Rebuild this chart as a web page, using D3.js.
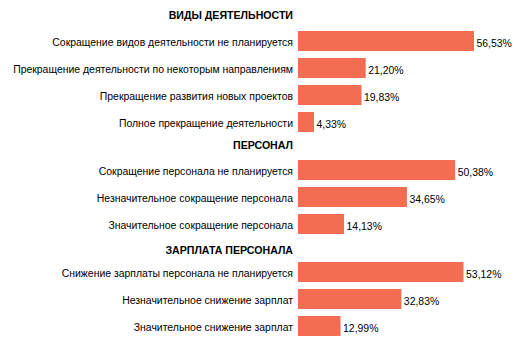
<!DOCTYPE html>
<html><head><meta charset="utf-8">
<script src="https://cdn.jsdelivr.net/npm/d3@7"></script>
<style>
html,body{margin:0;padding:0;background:#fff;}
svg{display:block;}
text{font-family:"Liberation Sans",Arial,sans-serif;}
</style></head>
<body>
<svg id="chart" width="518" height="346"></svg>
<script>
const groupTitles = ["ВИДЫ ДЕЯТЕЛЬНОСТИ", "ПЕРСОНАЛ", "ЗАРПЛАТА ПЕРСОНАЛА"];
const labelsActivity = [
  "Сокращение видов деятельности не планируется",
  "Прекращение деятельности по некоторым направлениям",
  "Прекращение развития новых проектов",
  "Полное прекращение деятельности"
];
const valuesActivity = [56.53, 21.20, 19.83, 4.33];
const labelsStaff = [
  "Сокращение персонала не планируется",
  "Незначительное сокращение персонала",
  "Значительное сокращение персонала"
];
const valuesStaff = [50.38, 34.65, 14.13];
const labelsSalary = [
  "Снижение зарплаты персонала не планируется",
  "Незначительное снижение зарплат",
  "Значительное снижение зарплат"
];
const valuesSalary = [53.12, 32.83, 12.99];

const groups = [
  {title: groupTitles[0], labels: labelsActivity, values: valuesActivity},
  {title: groupTitles[1], labels: labelsStaff, values: valuesStaff},
  {title: groupTitles[2], labels: labelsSalary, values: valuesSalary}
];

const svg = d3.select("#chart");
const plotLeft = 298;
const x = d3.scaleLinear().domain([0, 56.53]).range([300.7, 474]);
const fmt = v => d3.format(".2f")(v).replace(".", ",") + "%";

const groupTops = [31, 160, 262];
const titleY = [15, 145, 250];
const pitch = 27, gap = 7;

groups.forEach((g, gi) => {
  const n = g.labels.length;
  const y = d3.scaleBand()
    .domain(g.labels)
    .range([groupTops[gi], groupTops[gi] + n * pitch - gap])
    .paddingInner(gap / pitch)
    .paddingOuter(0);

  svg.append("text")
    .attr("x", 293).attr("y", titleY[gi])
    .attr("text-anchor", "end")
    .attr("dominant-baseline", "central")
    .style("font-size", "10.6px").style("font-weight", "bold")
    .attr("fill", "#000")
    .text(g.title);

  const rows = svg.append("g").selectAll("g")
    .data(g.labels.map((l, i) => ({label: l, value: g.values[i]})))
    .join("g");

  rows.append("rect")
    .attr("x", plotLeft)
    .attr("y", d => y(d.label))
    .attr("width", d => x(d.value) - plotLeft)
    .attr("height", y.bandwidth())
    .attr("fill", "#F26D52");

  rows.append("text")
    .attr("x", 293)
    .attr("y", d => y(d.label) + y.bandwidth() / 2 + 1)
    .attr("text-anchor", "end")
    .attr("dominant-baseline", "central")
    .style("font-size", "10.45px")
    .attr("fill", "#000")
    .text(d => d.label);

  rows.append("text")
    .attr("x", d => x(d.value) + 2.5)
    .attr("y", d => y(d.label) + y.bandwidth() / 2 + 2)
    .attr("dominant-baseline", "central")
    .style("font-size", "10.45px")
    .attr("fill", "#000")
    .text(d => fmt(d.value));
});
</script>
</body></html>
